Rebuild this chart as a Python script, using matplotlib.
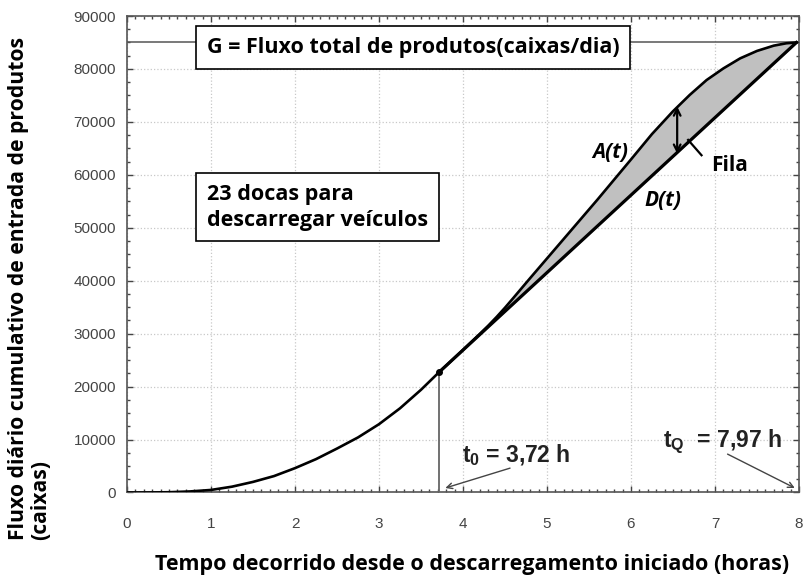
import numpy as np
import matplotlib
matplotlib.use("Agg")
import matplotlib.pyplot as plt
from matplotlib.ticker import MultipleLocator

plt.rcParams['mathtext.fontset'] = 'custom'
plt.rcParams['mathtext.rm'] = 'Liberation Sans:bold'
plt.rcParams['mathtext.bf'] = 'Liberation Sans:bold'
plt.rcParams['mathtext.it'] = 'Liberation Sans:bold'

# A(t): chegadas acumuladas (caixas)
t_a = [0, 0.25, 0.5, 0.75, 1.0, 1.25, 1.5, 1.75, 2.0, 2.25, 2.5, 2.75, 3.0, 3.25,
       3.5, 3.72, 4.0, 4.2, 4.3, 4.4, 4.5, 4.6, 4.8, 5.0, 5.2, 5.4, 5.6, 5.8, 6.0,
       6.25, 6.5, 6.7, 6.9, 7.1, 7.3, 7.5, 7.7, 7.85, 7.97]
a_val = [0, 5, 50, 200, 480, 1100, 2000, 3100, 4600, 6300, 8300, 10400, 12900, 15900,
         19400, 22800, 26950, 29950, 31500, 33150, 34900, 36750, 40500, 44200, 47900,
         51600, 55300, 59100, 62900, 67700, 72000, 75100, 77900, 80100, 82000, 83400,
         84400, 84850, 85000]

# D(t): saidas (reta apos t0)
t0 = 3.72
tq = 7.97
t_d = [t0, tq]
d_val = [22800, 85000]
G = 85000

fig = plt.figure(figsize=(8.05, 5.82), dpi=100)
ax = fig.add_axes([0.1578, 0.1538, 0.8347, 0.8187])

ax.set_xlim(0, 8)
ax.set_ylim(0, 90000)

ax.xaxis.set_major_locator(MultipleLocator(1))
ax.xaxis.set_minor_locator(MultipleLocator(0.1))
ax.yaxis.set_major_locator(MultipleLocator(10000))
ax.yaxis.set_minor_locator(MultipleLocator(2500))
ax.tick_params(which='both', direction='in', top=True, right=True, colors='#444444')
ax.tick_params(which='major', length=4, width=1)
ax.tick_params(which='minor', length=2.5, width=1)
ax.tick_params(axis='x', which='major', pad=18, labelsize=11, labelcolor='#444444')
ax.tick_params(axis='y', which='major', pad=8, labelsize=11, labelcolor='#444444')
for lab in ax.get_xticklabels() + ax.get_yticklabels():
    lab.set_family('Liberation Sans')
for sp in ax.spines.values():
    sp.set_color('#555555')
    sp.set_linewidth(1.2)
ax.grid(True, which='major', color='#c8c8c8', linestyle=':', linewidth=0.9)
ax.set_axisbelow(True)

# area da fila entre A e D
t_arr = np.array(t_a)
mask = t_arr >= t0
a_arr = np.array(a_val)
d_interp = np.interp(t_arr[mask], t_d, d_val)
ax.fill_between(t_arr[mask], d_interp, a_arr[mask], color='#c0c0c0', zorder=2)

ax.axhline(G, color='#555555', lw=1.1, zorder=2)
ax.plot([t0, t0], [0, d_val[0]], color='#666666', lw=1.3, zorder=3)
ax.plot(t_a, a_val, color='black', lw=1.9, zorder=4)
ax.plot(t_d, d_val, color='black', lw=2.3, zorder=4)
ax.plot([t0], [d_val[0]], 'o', color='black', ms=4, zorder=5)

box = dict(boxstyle='square,pad=0.5', facecolor='white', edgecolor='black', lw=1.2)
ax.text(0.95, 84100, 'G = Fluxo total de produtos(caixas/dia)', family='Open Sans',
        fontweight='bold', fontsize=15.5, va='center', ha='left', bbox=box, zorder=6)
ax.text(0.95, 53900, '23 docas para\ndescarregar veículos', family='Open Sans',
        fontweight='bold', fontsize=15.5, va='center', ha='left', bbox=box,
        linespacing=1.3, zorder=6)

ax.text(5.75, 64300, 'A(t)', family='Open Sans', fontweight='bold', style='italic',
        fontsize=15, ha='center', va='center', zorder=6)
ax.text(6.38, 55200, 'D(t)', family='Open Sans', fontweight='bold', style='italic',
        fontsize=15, ha='center', va='center', zorder=6)
ax.text(6.96, 61800, 'Fila', family='Open Sans', fontweight='bold',
        fontsize=15, ha='left', va='center', zorder=6)

# seta dupla da fila
ax.annotate('', xy=(6.55, 72900), xytext=(6.55, 64000),
            arrowprops=dict(arrowstyle='<->', color='black', lw=1.6,
                            mutation_scale=12, shrinkA=0, shrinkB=0), zorder=6)
ax.plot([6.68, 6.84], [66600, 63700], color='black', lw=1.6, zorder=6)

ax.text(3.99, 5700, r'$\mathbf{t_0}$ = 3,72 h', family='Liberation Sans',
        fontweight='bold', fontsize=16.5, color='#222222', va='baseline', zorder=6)
ax.annotate('', xy=(3.79, 850), xytext=(4.56, 4600),
            arrowprops=dict(arrowstyle='->', color='#444444', lw=1,
                            shrinkA=0, shrinkB=0))
ax.text(6.38, 8600, r'$\mathbf{t_Q}$  = 7,97 h', family='Liberation Sans',
        fontweight='bold', fontsize=16.5, color='#222222', va='baseline', zorder=6)
ax.annotate('', xy=(7.95, 850), xytext=(7.15, 7250),
            arrowprops=dict(arrowstyle='->', color='#444444', lw=1,
                            shrinkA=0, shrinkB=0))

fig.text(0.037, 0.072, 'Fluxo diário cumulativo de entrada de produtos\n(caixas)',
         family='Open Sans', fontweight='bold', fontsize=15.2, rotation=90,
         ha='center', va='bottom', multialignment='left', linespacing=1.05)
fig.text(0.587, 0.03, 'Tempo decorrido desde o descarregamento iniciado (horas)',
         family='Open Sans', fontweight='bold', fontsize=15.5, ha='center', va='center')

fig.savefig('out.png', dpi=100)
